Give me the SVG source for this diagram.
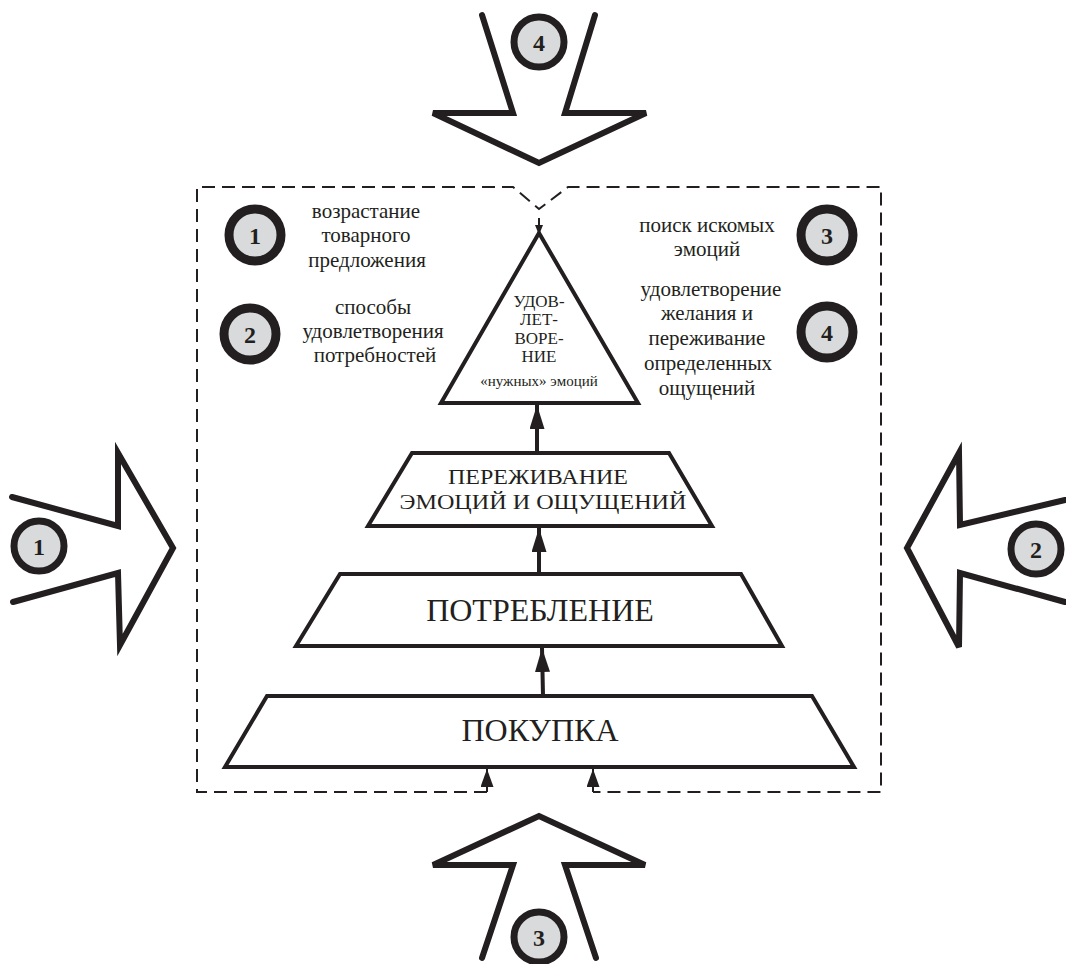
<svg xmlns="http://www.w3.org/2000/svg" width="1066" height="964" viewBox="0 0 1066 964" font-family="Liberation Serif, Times New Roman, DejaVu Serif, serif">
<style>
.bg{fill:#ffffff}
.big{fill:#ffffff;stroke:#231f20;stroke-width:6;stroke-linejoin:miter;stroke-linecap:round}
.shape{fill:#ffffff;stroke:#231f20;stroke-width:4;stroke-linejoin:miter}
.circ{fill:#d9dadb;stroke:#231f20;stroke-width:7}
.circb{fill:#d9dadb;stroke:#231f20;stroke-width:9}
.num{font-weight:bold;font-size:24px;fill:#231f20;text-anchor:middle}
.lbl{font-size:21px;fill:#231f20;text-anchor:middle}
.cap{font-size:17px;fill:#231f20;text-anchor:middle}
.cap2{font-size:15px;fill:#231f20;text-anchor:middle}
.mid{font-size:21.5px;fill:#231f20;text-anchor:middle}
.lg{font-size:32px;fill:#231f20;text-anchor:middle}
.dash{fill:none;stroke:#231f20;stroke-width:2;stroke-dasharray:13 7}
.conn{fill:none;stroke:#231f20;stroke-width:4}
.connt{fill:none;stroke:#231f20;stroke-width:2}
</style>
<defs>
<marker id="ah" markerUnits="userSpaceOnUse" markerWidth="24" markerHeight="15" refX="24" refY="7.5" orient="auto">
<path d="M0,0 L24,7.5 L0,15 z" fill="#231f20"/>
</marker>
<marker id="ahs" markerUnits="userSpaceOnUse" markerWidth="18" markerHeight="13" refX="18" refY="6.5" orient="auto">
<path d="M0,0 L18,6.5 L0,13 z" fill="#231f20"/>
</marker>
<marker id="aht" markerUnits="userSpaceOnUse" markerWidth="10" markerHeight="8" refX="10" refY="4" orient="auto">
<path d="M0,0 L10,4 L0,8 z" fill="#231f20"/>
</marker>
</defs>
<rect class="bg" x="0" y="0" width="1066" height="964"/>

<g id="frame">
<path class="dash" d="M487,792 L197,792 L197,187 L513,187 L539,209 L568,187 L881,187 L881,792 L593,792"/>
</g>

<g id="arrow-top-4">
<polyline class="big" points="482,15 513,113 433,113 539,163 646,113 565,113 595,15"/>
<circle class="circ" cx="539" cy="42" r="25"/>
<text class="num" x="539" y="51">4</text>
</g>

<g id="arrow-left-1">
<polyline class="big" points="12,497 118,526 118,453 173,548 120,645 118,573 13,602"/>
<circle class="circ" cx="39" cy="546" r="25"/>
<text class="num" x="39" y="555">1</text>
</g>

<g id="arrow-right-2">
<polyline class="big" points="1065,500 960,525 959,453 907,548 959,647 960,573 1065,602"/>
<circle class="circ" cx="1036" cy="549" r="25"/>
<text class="num" x="1036" y="558">2</text>
</g>

<g id="arrow-bottom-3">
<polyline class="big" points="482,958 513,865 433,865 539,816 645,865 565,865 596,958"/>
<circle class="circ" cx="539" cy="937" r="25"/>
<text class="num" x="539" y="946">3</text>
</g>

<g id="legend-1">
<circle class="circb" cx="255" cy="235" r="26"/>
<text class="num" x="255" y="244">1</text>
<text class="lbl" x="366" y="218">возрастание</text>
<text class="lbl" x="366" y="242">товарного</text>
<text class="lbl" x="367" y="267">предложения</text>
</g>

<g id="legend-2">
<circle class="circb" cx="250" cy="334" r="26"/>
<text class="num" x="250" y="343">2</text>
<text class="lbl" x="373" y="314">способы</text>
<text class="lbl" x="373" y="338">удовлетворения</text>
<text class="lbl" x="375" y="362">потребностей</text>
</g>

<g id="legend-3">
<circle class="circb" cx="827" cy="235" r="26"/>
<text class="num" x="827" y="244">3</text>
<text class="lbl" x="707" y="232">поиск искомых</text>
<text class="lbl" x="707" y="256">эмоций</text>
</g>

<g id="legend-4">
<circle class="circb" cx="827" cy="332" r="26"/>
<text class="num" x="827" y="341">4</text>
<text class="lbl" x="711" y="296">удовлетворение</text>
<text class="lbl" x="707" y="320">желания и</text>
<text class="lbl" x="707" y="345">переживание</text>
<text class="lbl" x="708" y="370">определенных</text>
<text class="lbl" x="707" y="395">ощущений</text>
</g>

<g id="node-satisfaction">
<polygon class="shape" points="539,233 638,403 441,403"/>
<text class="cap" x="539" y="307">УДОВ-</text>
<text class="cap" x="539" y="325">ЛЕТ-</text>
<text class="cap" x="539" y="344">ВОРЕ-</text>
<text class="cap" x="539" y="362">НИЕ</text>
<text class="cap2" x="539" y="386">«нужных» эмоций</text>
</g>

<g id="node-experience">
<polygon class="shape" points="412,453 669,453 712,526 368,526"/>
<text class="mid" x="538" y="484" textLength="180" lengthAdjust="spacingAndGlyphs">ПЕРЕЖИВАНИЕ</text>
<text class="mid" x="543" y="509" textLength="287" lengthAdjust="spacingAndGlyphs">ЭМОЦИЙ И ОЩУЩЕНИЙ</text>
</g>

<g id="node-consumption">
<polygon class="shape" points="340,574 741,574 782,646 296,646"/>
<text class="lg" x="540" y="621">ПОТРЕБЛЕНИЕ</text>
</g>

<g id="node-purchase">
<polygon class="shape" points="267,696 812,696 854,767 225,767"/>
<text class="lg" x="540" y="741">ПОКУПКА</text>
</g>

<g id="connectors">
<line class="connt" x1="539" y1="218" x2="539" y2="235" marker-end="url(#aht)"/>
<line class="conn" x1="537" y1="453" x2="537" y2="405" marker-end="url(#ah)"/>
<line class="conn" x1="539" y1="574" x2="539" y2="528" marker-end="url(#ah)"/>
<line class="conn" x1="543" y1="696" x2="542" y2="648" marker-end="url(#ah)"/>
<line class="connt" x1="487" y1="792" x2="487" y2="769" marker-end="url(#ahs)"/>
<line class="connt" x1="593" y1="792" x2="593" y2="769" marker-end="url(#ahs)"/>
</g>
</svg>
